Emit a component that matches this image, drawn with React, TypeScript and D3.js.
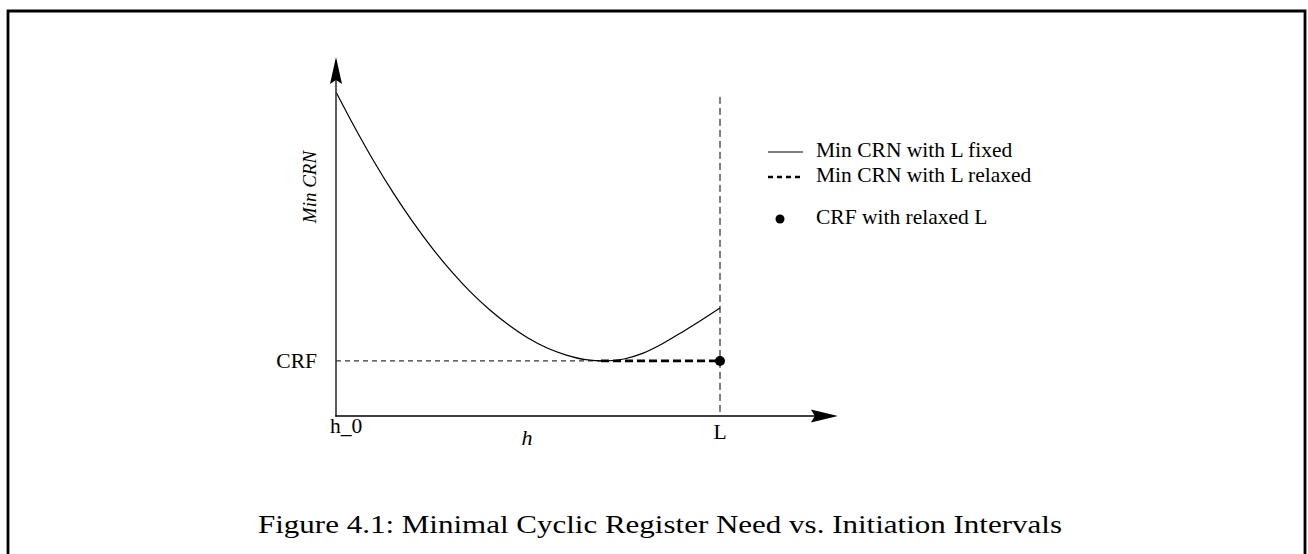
import React from "react";
import * as d3 from "d3";

// h positions (h_0 = 0, L = 10) and Min CRN values
const curveH = [0, 0.5, 1, 1.5, 2, 2.5, 3, 3.5, 4, 4.5, 5, 5.5, 6, 6.5, 7, 7.5, 8, 8.5, 9, 9.5, 10];
const curveCRN = [100, 88.8, 78.3, 68.7, 59.9, 51.9, 44.7, 38.3, 32.8, 28.1, 24.1, 21.0, 18.8, 17.4, 17.0, 17.6, 19.4, 22.3, 25.8, 29.5, 33.3];
const CRF = 17;
const H0 = 0;
const L = 10;
const relaxedStartH = 6.9;
const xAxisMax = 13.07;
const yAxisMax = 110.8;
const lTop = 98.5;
const xTickLabels = ["h_0", "L"];
const legendLabels = ["Min CRN with L fixed", "Min CRN with L relaxed", "CRF with relaxed L"];
const caption = "Figure 4.1: Minimal Cyclic Register Need vs. Initiation Intervals";

const W = 1308;
const H = 554;

export default function App() {
  const x = d3.scaleLinear().domain([0, 10]).range([336, 720]);
  const y = d3.scaleLinear().domain([0, 100]).range([416, 92]);

  const pts: [number, number][] = curveH.map((h, i) => [h, curveCRN[i]]);
  const line = d3
    .line<[number, number]>()
    .x((d) => x(d[0]))
    .y((d) => y(d[1]))
    .curve(d3.curveMonotoneX);

  const ox = x(H0);
  const oy = y(0);
  const xTip = x(xAxisMax);
  const yTip = y(yAxisMax);

  const serif = "'Liberation Serif', 'Times New Roman', serif";

  const upArrow = `M${ox},${yTip} L${ox - 6},${yTip + 27} L${ox},${yTip + 23} L${ox + 6},${yTip + 27} Z`;
  const rightArrow = `M${xTip},${oy} L${xTip - 27},${oy - 6.5} L${xTip - 23},${oy} L${xTip - 27},${oy + 6.5} Z`;

  return (
    <svg
      width={W}
      height={H}
      style={{ position: "absolute", left: 0, top: 0, background: "#fff" }}
    >
      {/* frame, open at the bottom */}
      <path d={`M8,${H} L8,11 L1305,11 L1305,${H}`} fill="none" stroke="#000" strokeWidth={2.8} />

      {/* CRF thin dashed line */}
      <line x1={ox} x2={x(relaxedStartH)} y1={y(CRF)} y2={y(CRF)} stroke="#000" strokeWidth={1} strokeDasharray="5,4" />
      {/* L vertical dashed line */}
      <line x1={x(L)} x2={x(L)} y1={y(lTop)} y2={oy} stroke="#000" strokeWidth={1} strokeDasharray="7,4" />

      {/* fixed-L curve */}
      <path d={line(pts) || ""} fill="none" stroke="#000" strokeWidth={1.2} />

      {/* relaxed-L thick dashed */}
      <line x1={x(relaxedStartH)} x2={x(L)} y1={y(CRF)} y2={y(CRF)} stroke="#000" strokeWidth={2.6} strokeDasharray="8,4" />
      <circle cx={x(L)} cy={y(CRF)} r={5} fill="#000" />

      {/* axes */}
      <line x1={ox} x2={ox} y1={oy + 0.5} y2={yTip + 20} stroke="#333" strokeWidth={1.6} />
      <path d={upArrow} fill="#000" />
      <line x1={ox - 0.8} x2={xTip - 20} y1={oy} y2={oy} stroke="#000" strokeWidth={1.6} />
      <path d={rightArrow} fill="#000" />

      {/* labels */}
      <text x={317} y={368} fontFamily={serif} fontSize={21.5} textAnchor="end">CRF</text>
      <text x={330} y={433} fontFamily={serif} fontSize={21.5}>{xTickLabels[0]}</text>
      <text x={x(L)} y={439} fontFamily={serif} fontSize={21.5} textAnchor="middle">{xTickLabels[1]}</text>
      <text x={527} y={445} fontFamily={serif} fontSize={22} fontStyle="italic" textAnchor="middle">h</text>
      <text
        transform="translate(316,187) rotate(-90)"
        fontFamily={serif}
        fontSize={19}
        fontStyle="italic"
        textAnchor="middle"
      >
        Min CRN
      </text>

      {/* legend */}
      <line x1={768} x2={803} y1={152} y2={152} stroke="#000" strokeWidth={1.1} />
      <text x={816} y={157} fontFamily={serif} fontSize={21.5}>{legendLabels[0]}</text>
      <line x1={768} x2={803} y1={177} y2={177} stroke="#000" strokeWidth={2.4} strokeDasharray="5,4" />
      <text x={816} y={182} fontFamily={serif} fontSize={21.5}>{legendLabels[1]}</text>
      <circle cx={780} cy={219} r={4.5} fill="#000" />
      <text x={816} y={224} fontFamily={serif} fontSize={21.5}>{legendLabels[2]}</text>

      {/* caption */}
      <text
        x={258}
        y={533}
        fontFamily={serif}
        fontSize={25}
        textLength={804}
        lengthAdjust="spacingAndGlyphs"
      >
        {caption}
      </text>
    </svg>
  );
}
